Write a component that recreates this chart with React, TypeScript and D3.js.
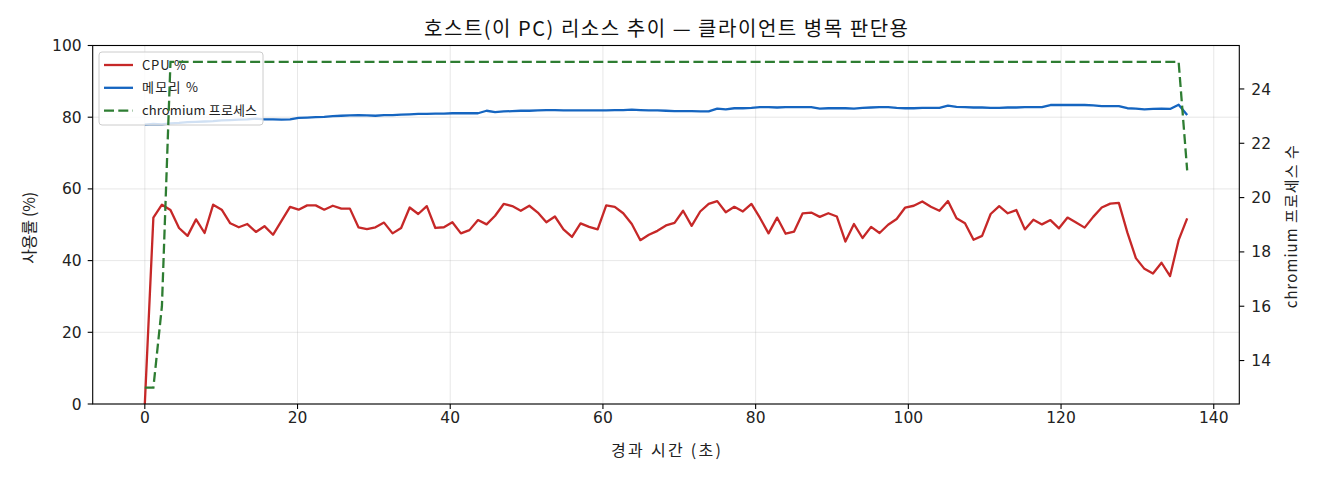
import { useEffect } from "react";
import { scaleLinear, line } from "d3";

// sample timestamps (seconds since start)
const times = [
    0, 1.12, 2.24, 3.36, 4.48, 5.6, 6.71, 7.83, 8.95, 10.07, 11.19, 12.31, 13.43,
    14.55, 15.67, 16.79, 17.9, 19.02, 20.14, 21.26, 22.38, 23.5, 24.62, 25.74,
    26.86, 27.98, 29.09, 30.21, 31.33, 32.45, 33.57, 34.69, 35.81, 36.93, 38.05,
    39.17, 40.28, 41.4, 42.52, 43.64, 44.76, 45.88, 47.0, 48.12, 49.24, 50.36,
    51.47, 52.59, 53.71, 54.83, 55.95, 57.07, 58.19, 59.31, 60.43, 61.55, 62.66,
    63.78, 64.9, 66.02, 67.14, 68.26, 69.38, 70.5, 71.62, 72.74, 73.85, 74.97,
    76.09, 77.21, 78.33, 79.45, 80.57, 81.69, 82.81, 83.93, 85.04, 86.16, 87.28,
    88.4, 89.52, 90.64, 91.76, 92.88, 94.0, 95.12, 96.23, 97.35, 98.47, 99.59,
    100.71, 101.83, 102.95, 104.07, 105.19, 106.31, 107.42, 108.54, 109.66,
    110.78, 111.9, 113.02, 114.14, 115.26, 116.38, 117.5, 118.61, 119.73,
    120.85, 121.97, 123.09, 124.21, 125.33, 126.45, 127.57, 128.69, 129.8,
    130.92, 132.04, 133.16, 134.28, 135.4, 136.52,
];

const cpu = [
    0, 52.0, 55.6, 54.1, 49.1, 46.9, 51.5, 47.7, 55.6, 54.2, 50.4, 49.3, 50.2,
    48.0, 49.6, 47.2, 51.1, 55.0, 54.2, 55.4, 55.4, 54.2, 55.3, 54.5, 54.5, 49.3,
    48.8, 49.3, 50.6, 47.6, 49.1, 54.8, 53.0, 55.2, 49.1, 49.3, 50.7, 47.6, 48.5,
    51.3, 50.1, 52.5, 55.8, 55.2, 53.9, 55.3, 53.4, 50.7, 52.3, 48.7, 46.6, 50.4,
    49.4, 48.7, 55.4, 55.0, 53.2, 50.2, 45.7, 47.2, 48.3, 49.8, 50.5, 53.9, 49.7,
    53.7, 55.8, 56.6, 53.5, 55.0, 53.7, 55.8, 51.9, 47.6, 52.0, 47.5, 48.1, 53.2,
    53.4, 52.2, 53.2, 52.3, 45.3, 50.2, 46.3, 49.4, 47.7, 50.0, 51.6, 54.8, 55.3,
    56.5, 55.0, 53.9, 56.6, 51.8, 50.4, 45.8, 46.9, 53.0, 55.2, 53.2, 54.1, 48.7,
    51.4, 50.1, 51.3, 49.0, 52.0, 50.6, 49.2, 52.2, 54.8, 55.9, 56.1, 47.8, 40.7,
    37.7, 36.4, 39.4, 35.7, 45.7, 51.8,
];

const memory = [
    77.9, 78.1, 78.0, 78.3, 78.4, 78.6, 78.7, 78.8, 78.9, 79.1, 79.2, 79.3, 79.4,
    79.6, 79.4, 79.4, 79.3, 79.4, 79.8, 79.9, 80.0, 80.1, 80.3, 80.4, 80.5, 80.6,
    80.5, 80.4, 80.6, 80.6, 80.7, 80.8, 80.9, 80.9, 81.0, 81.0, 81.1, 81.1, 81.1,
    81.1, 81.8, 81.4, 81.6, 81.7, 81.8, 81.8, 81.9, 82.0, 82.0, 81.9, 81.9, 81.9,
    81.9, 81.9, 81.9, 82.0, 82.0, 82.1, 82.0, 81.9, 81.9, 81.8, 81.7, 81.7, 81.7,
    81.6, 81.6, 82.4, 82.2, 82.5, 82.5, 82.6, 82.8, 82.8, 82.7, 82.8, 82.8, 82.8,
    82.8, 82.4, 82.5, 82.5, 82.5, 82.4, 82.6, 82.7, 82.8, 82.8, 82.6, 82.5, 82.5,
    82.6, 82.6, 82.6, 83.2, 82.9, 82.8, 82.7, 82.7, 82.6, 82.6, 82.7, 82.7, 82.8,
    82.8, 82.8, 83.4, 83.4, 83.4, 83.4, 83.4, 83.3, 83.1, 83.1, 83.1, 82.5, 82.4,
    82.2, 82.3, 82.4, 82.3, 83.5, 80.6,
];

const chromium = [
    13, 13, 16, 25, 25, 25, 25, 25, 25, 25, 25, 25, 25, 25, 25, 25, 25, 25, 25,
    25, 25, 25, 25, 25, 25, 25, 25, 25, 25, 25, 25, 25, 25, 25, 25, 25, 25, 25,
    25, 25, 25, 25, 25, 25, 25, 25, 25, 25, 25, 25, 25, 25, 25, 25, 25, 25, 25,
    25, 25, 25, 25, 25, 25, 25, 25, 25, 25, 25, 25, 25, 25, 25, 25, 25, 25, 25,
    25, 25, 25, 25, 25, 25, 25, 25, 25, 25, 25, 25, 25, 25, 25, 25, 25, 25, 25,
    25, 25, 25, 25, 25, 25, 25, 25, 25, 25, 25, 25, 25, 25, 25, 25, 25, 25, 25,
    25, 25, 25, 25, 25, 25, 25, 25, 21,
];

const xTicks = [0, 20, 40, 60, 80, 100, 120, 140];
const yLeftTicks = [0, 20, 40, 60, 80, 100];
const yRightTicks = [14, 16, 18, 20, 22, 24];

const legendItems = [
    { label: "CPU %", color: "#c62828", dash: "", len: 44 },
    { label: "메모리 %", color: "#1565c0", dash: "", len: 56 },
    { label: "chromium 프로세스", color: "#2e7d32", dash: "10,4.3", len: 115 },
];

const W = 1320;
const H = 480;
const FONT = "'Noto Sans CJK KR', 'DejaVu Sans', sans-serif";
const NUM_FONT = "'DejaVu Sans', sans-serif";

export default function App() {
    useEffect(() => {
        document.body.style.margin = "0";
    }, []);

    const left = 92.7;
    const right = 1239.3;
    const top = 45.5;
    const bottom = 404;

    const tMax = times[times.length - 1];
    const pad = tMax * 0.05;
    const x = scaleLinear().domain([-pad, tMax + pad]).range([left, right]);
    const yL = scaleLinear().domain([0, 100]).range([bottom, top]);
    const yR = scaleLinear().domain([12.4, 25.6]).range([bottom, top]);

    const mkLine = (vals: number[], y: (v: number) => number) =>
        line<number>()
            .x((_, i) => x(times[i]))
            .y((v) => y(v))(vals) ?? "";

    const midY = (top + bottom) / 2;
    const midX = (left + right) / 2;

    return (
        <svg width={W} height={H} style={{ display: "block", background: "#fff" }} fontFamily={FONT}>
            <defs>
                <clipPath id="plot">
                    <rect x={left} y={top} width={right - left} height={bottom - top} />
                </clipPath>
            </defs>

            {/* grid */}
            <g stroke="#b0b0b0" strokeOpacity={0.3} strokeWidth={1}>
                {xTicks.map((t) => (
                    <line key={`gx${t}`} x1={x(t)} x2={x(t)} y1={top} y2={bottom} />
                ))}
                {yLeftTicks.map((t) => (
                    <line key={`gy${t}`} x1={left} x2={right} y1={yL(t)} y2={yL(t)} />
                ))}
            </g>

            {/* primary axis series */}
            <g clipPath="url(#plot)" fill="none" strokeWidth={2.3} strokeLinejoin="round">
                <path d={mkLine(cpu, yL)} stroke="#c62828" />
                <path d={mkLine(memory, yL)} stroke="#1565c0" />
            </g>

            {/* legend */}
            <g>
                <rect x={99} y={52} width={164} height={73} rx={3} fill="#fff" fillOpacity={0.8} stroke="#cccccc" strokeWidth={1} />
                {legendItems.map((d, i) => {
                    const cy = 65 + i * 22.8;
                    return (
                        <g key={d.label}>
                            <line x1={104} x2={133} y1={cy} y2={cy} stroke={d.color} strokeWidth={2.3} strokeDasharray={d.dash || undefined} />
                            <text x={142} y={cy} dy="0.35em" fontSize={13} fill="#222" textLength={d.len} lengthAdjust="spacing">
                                {d.label}
                            </text>
                        </g>
                    );
                })}
            </g>

            {/* secondary axis series */}
            <g clipPath="url(#plot)" fill="none">
                <path d={mkLine(chromium, yR)} stroke="#2e7d32" strokeWidth={2.3} strokeDasharray="10,4.3" />
            </g>

            {/* spines */}
            <rect x={left} y={top} width={right - left} height={bottom - top} fill="none" stroke="#000" strokeWidth={1.1} />

            {/* x axis */}
            <g fontSize={15.5} fill="#222" fontFamily={NUM_FONT}>
                {xTicks.map((t) => (
                    <g key={`xt${t}`}>
                        <line x1={x(t)} x2={x(t)} y1={bottom} y2={bottom + 5} stroke="#000" strokeWidth={1.1} />
                        <text x={x(t)} y={bottom + 19} textAnchor="middle">
                            {t}
                        </text>
                    </g>
                ))}
            </g>
            <text x={midX} y={456} textAnchor="middle" fontSize={16} fill="#222" textLength={110} lengthAdjust="spacing">
                경과 시간 (초)
            </text>

            {/* left y axis */}
            <g fontSize={15.5} fill="#222" fontFamily={NUM_FONT}>
                {yLeftTicks.map((t) => (
                    <g key={`yl${t}`}>
                        <line x1={left - 5} x2={left} y1={yL(t)} y2={yL(t)} stroke="#000" strokeWidth={1.1} />
                        <text x={left - 11} y={yL(t)} dy="0.36em" textAnchor="end">
                            {t}
                        </text>
                    </g>
                ))}
            </g>
            <text transform={`translate(29,${midY + 3}) rotate(-90)`} textAnchor="middle" dy="0.35em" fontSize={16} fill="#222" textLength={72} lengthAdjust="spacing">
                사용률 (%)
            </text>

            {/* right y axis */}
            <g fontSize={15.5} fill="#222" fontFamily={NUM_FONT}>
                {yRightTicks.map((t) => (
                    <g key={`yr${t}`}>
                        <line x1={right} x2={right + 5} y1={yR(t)} y2={yR(t)} stroke="#000" strokeWidth={1.1} />
                        <text x={right + 12} y={yR(t)} dy="0.36em" textAnchor="start">
                            {t}
                        </text>
                    </g>
                ))}
            </g>
            <text transform={`translate(1292,${midY + 2}) rotate(-90)`} textAnchor="middle" dy="0.35em" fontSize={15} fill="#222" textLength={163} lengthAdjust="spacing">
                chromium 프로세스 수
            </text>

            {/* title */}
            <text x={midX} y={36} textAnchor="middle" fontSize={20} fill="#111" textLength={484} lengthAdjust="spacing">
                호스트(이 PC) 리소스 추이 — 클라이언트 병목 판단용
            </text>
        </svg>
    );
}
